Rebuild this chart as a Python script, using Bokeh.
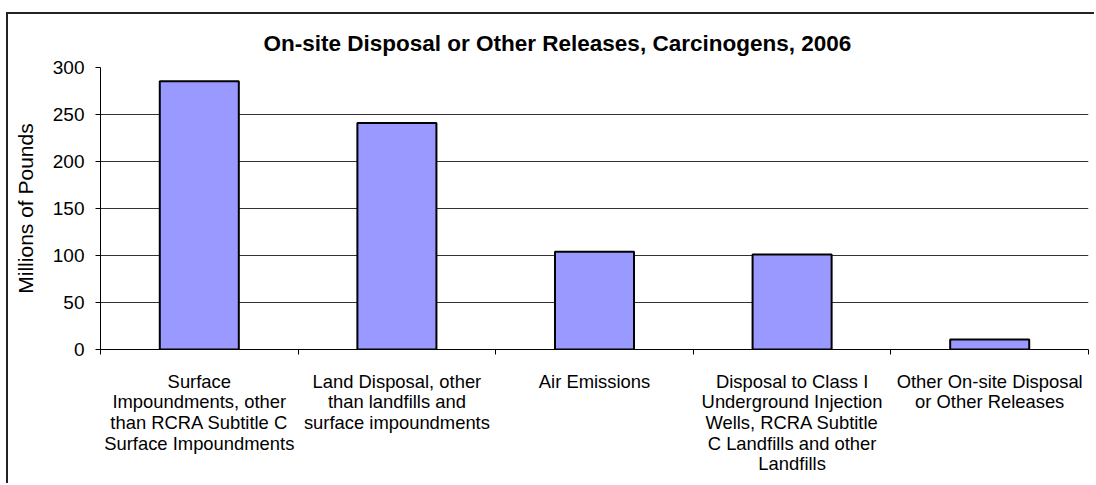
import numpy as np
from bokeh.plotting import figure
from bokeh.models import (Range1d, LinearAxis, FixedTicker, Grid, ColumnDataSource)
from bokeh.embed import file_html
from bokeh.resources import INLINE

categories = [
    "Surface\nImpoundments, other\nthan RCRA Subtitle C\nSurface Impoundments",
    "Land Disposal, other\nthan landfills and\nsurface impoundments",
    "Air Emissions",
    "Disposal to Class I\nUnderground Injection\nWells, RCRA Subtitle\nC Landfills and other\nLandfills",
    "Other On-site Disposal\nor Other Releases",
]
values = [285.5, 241.0, 104.0, 101.0, 10.6]
y_ticks = [0, 50, 100, 150, 200, 250, 300]
grid_ticks = [50, 100, 150, 200, 250]
title_text = "On-site Disposal or Other Releases, Carcinogens, 2006"
y_label = "Millions of Pounds"

FONT = "Liberation Sans"
n = len(categories)
centers = (np.arange(n) + 0.5).tolist()
bounds = list(range(n + 1))

p = figure(
    x_range=Range1d(0, n),
    y_range=Range1d(0, 300),
    width=1088, height=471,
    output_backend="svg", toolbar_location=None,
    x_axis_location=None, y_axis_location=None,
    min_border_left=92, min_border_right=8,
    min_border_top=53, min_border_bottom=136,
    styles={"border-left": "2px solid #222222", "border-top": "2px solid #222222",
            "margin-top": "12px", "margin-left": "6px"},
)
p.outline_line_color = None
p.background_fill_color = "white"
p.border_fill_color = "white"

# hide the default grids that figure() creates
for g in list(p.xgrid) + list(p.ygrid):
    g.visible = False

p.title.text = title_text
p.title.align = "left"
p.title.offset = 163
p.title.standoff = 23
p.title.text_font = FONT
p.title.text_font_size = "22.5px"
p.title.text_font_style = "bold"
p.title.text_color = "black"

# Horizontal gridlines
p.add_layout(Grid(dimension=1, ticker=FixedTicker(ticks=grid_ticks),
                  grid_line_color="#333333", grid_line_width=1))

src = ColumnDataSource(dict(x=centers, val=values, cat=categories))
p.vbar(x="x", top="val", bottom=0, width=0.4, source=src,
       fill_color="#9999FF", line_color="black", line_width=2)

# Y axis
yax = LinearAxis(ticker=FixedTicker(ticks=y_ticks), axis_label=y_label)
yax.axis_line_color = "black"
yax.major_tick_line_color = "black"
yax.major_tick_out = 5
yax.major_tick_in = 0
yax.minor_tick_line_color = None
yax.major_label_text_font = FONT
yax.major_label_text_font_size = "19px"
yax.major_label_text_color = "black"
yax.major_label_standoff = 11
yax.axis_label_text_font = FONT
yax.axis_label_text_font_size = "21px"
yax.axis_label_text_font_style = "normal"
yax.axis_label_text_color = "black"
yax.axis_label_standoff = 13
p.add_layout(yax, "left")

# X axis: labels at category centres, ticks at category boundaries
xax = LinearAxis(ticker=FixedTicker(ticks=centers, minor_ticks=bounds))
xax.major_label_overrides = {c: lab for c, lab in zip(centers, categories)}
xax.axis_line_color = "black"
xax.major_tick_line_color = None
xax.major_tick_out = 0
xax.major_tick_in = 0
xax.minor_tick_line_color = "black"
xax.minor_tick_out = 5
xax.minor_tick_in = 0
xax.major_label_text_font = FONT
xax.major_label_text_font_size = "18.4px"
xax.major_label_text_color = "black"
xax.major_label_text_line_height = 0.985
xax.major_label_standoff = 16
p.add_layout(xax, "below")

open("out.html", "w").write(file_html(p, INLINE))
